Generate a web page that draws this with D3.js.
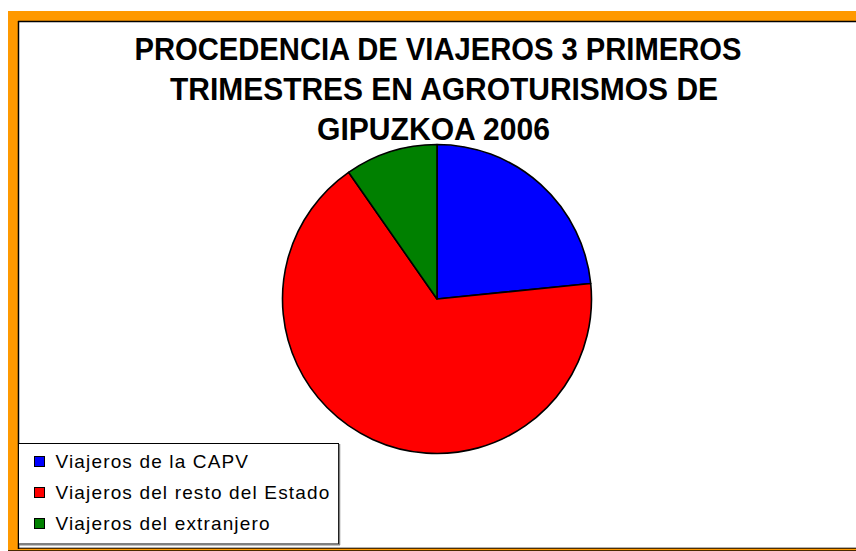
<!DOCTYPE html>
<html>
<head>
<meta charset="utf-8">
<script src="https://cdn.jsdelivr.net/npm/d3@7"></script>
<style>
  html, body { margin: 0; padding: 0; background: #ffffff; }
  svg { display: block; }
</style>
</head>
<body>
<svg id="chart" width="856" height="551"></svg>
<script>
// ---- data ----
const categories = ["Viajeros de la CAPV", "Viajeros del resto del Estado", "Viajeros del extranjero"];
const values = [23.4, 66.9, 9.7];
const colors = ["#0000FF", "#FF0000", "#008000"];
const titleLines = ["PROCEDENCIA DE VIAJEROS 3 PRIMEROS", "TRIMESTRES EN AGROTURISMOS DE", "GIPUZKOA 2006"];

const svg = d3.select("#chart");
const W = 856, H = 551;

// ---- frame ----
svg.append("rect").attr("x", 0).attr("y", 0).attr("width", W).attr("height", H).attr("fill", "#ffffff");
svg.append("rect").attr("x", 8).attr("y", 11).attr("width", W - 8).attr("height", H - 11).attr("fill", "#FF9900");
svg.append("rect").attr("x", 18).attr("y", 21).attr("width", W - 18).attr("height", 527).attr("fill", "#ffffff");
// inner dark edge
svg.append("line").attr("x1", 18).attr("x2", W).attr("y1", 21.5).attr("y2", 21.5).attr("stroke", "#000").attr("stroke-width", 1.5);
svg.append("line").attr("x1", 18.5).attr("x2", 18.5).attr("y1", 21).attr("y2", 549).attr("stroke", "#000").attr("stroke-width", 1.5);
svg.append("line").attr("x1", 18).attr("x2", W).attr("y1", 548.2).attr("y2", 548.2).attr("stroke", "#000").attr("stroke-width", 1);
svg.append("line").attr("x1", 8).attr("x2", W).attr("y1", 550.6).attr("y2", 550.6).attr("stroke", "#000").attr("stroke-width", 0.8);

// ---- title ----
const titleSpecs = [
  { cx: 438, y: 60, w: 607 },
  { cx: 444, y: 99.5, w: 548 },
  { cx: 433.5, y: 139.5, w: 233 }
];
svg.append("g").selectAll("text").data(titleLines).join("text")
  .attr("x", (d, i) => titleSpecs[i].cx - titleSpecs[i].w / 2)
  .attr("y", (d, i) => titleSpecs[i].y)
  .attr("textLength", (d, i) => titleSpecs[i].w)
  .attr("lengthAdjust", "spacingAndGlyphs")
  .attr("font-family", "'Liberation Sans', Arial, sans-serif")
  .attr("font-weight", "bold")
  .attr("font-size", 30.5)
  .attr("fill", "#000")
  .text(d => d);

// ---- pie ----
const cx = 437, cy = 299, R = 154.5;
const pie = d3.pie().sort(null).value(d => d)(values);
const arc = d3.arc().innerRadius(0).outerRadius(R);
svg.append("g").attr("transform", `translate(${cx},${cy})`)
  .selectAll("path").data(pie).join("path")
  .attr("d", arc)
  .attr("fill", (d, i) => colors[i])
  .attr("stroke", "#000")
  .attr("stroke-width", 1.6)
  .attr("stroke-linejoin", "round");

// ---- legend ----
const lg = svg.append("g");
lg.append("rect").attr("x", 18.5).attr("y", 443.5).attr("width", 320).attr("height", 100.5)
  .attr("fill", "#ffffff").attr("stroke", "#000").attr("stroke-width", 1);
lg.append("line").attr("x1", 339.5).attr("x2", 339.5).attr("y1", 444).attr("y2", 545)
  .attr("stroke", "#808080").attr("stroke-width", 1.5);
lg.append("line").attr("x1", 19).attr("x2", 340).attr("y1", 545).attr("y2", 545)
  .attr("stroke", "#808080").attr("stroke-width", 1);

const rowY = d3.scalePoint().domain(categories).range([461, 523]);
const items = lg.selectAll("g.item").data(categories).join("g").attr("class", "item")
  .attr("transform", d => `translate(0,${rowY(d)})`);
items.append("rect").attr("x", 34.5).attr("y", -4.5).attr("width", 10).attr("height", 10)
  .attr("fill", (d, i) => colors[i]).attr("stroke", "#000").attr("stroke-width", 1);
items.append("text").attr("x", 55.5).attr("y", 7)
  .attr("font-family", "'Liberation Sans', Arial, sans-serif")
  .attr("font-size", 19)
  .attr("letter-spacing", 1.15)
  .attr("fill", "#000")
  .text(d => d);
</script>
</body>
</html>
